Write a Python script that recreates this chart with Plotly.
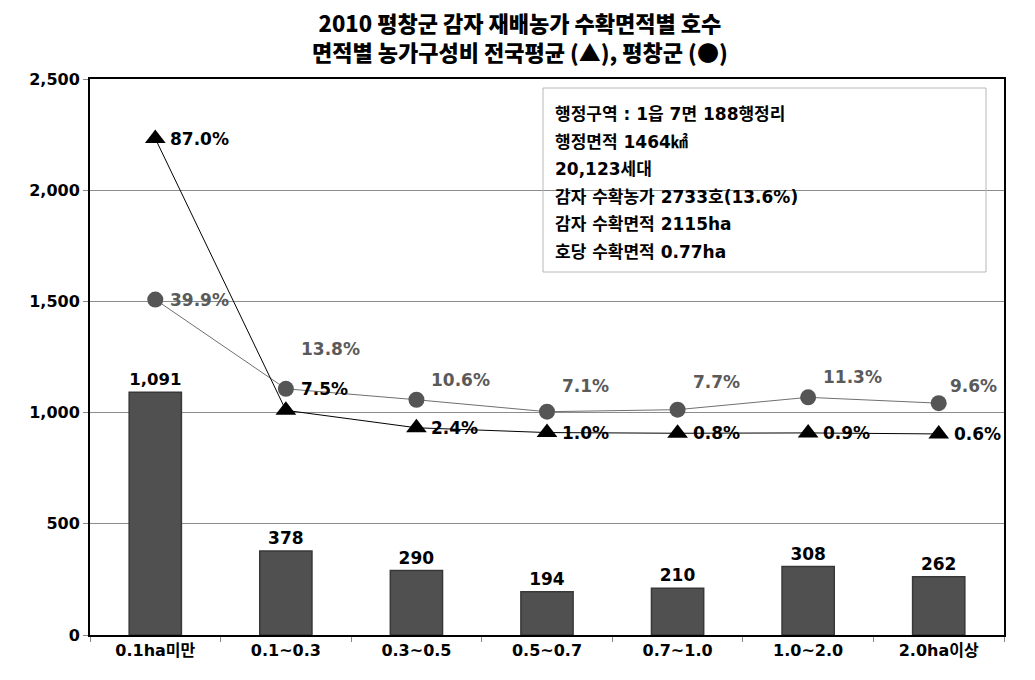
import plotly.graph_objects as go

categories = ["0.1ha미만", "0.1~0.3", "0.3~0.5", "0.5~0.7", "0.7~1.0", "1.0~2.0", "2.0ha이상"]
households = [1091, 378, 290, 194, 210, 308, 262]
national_pct = [87.0, 7.5, 2.4, 1.0, 0.8, 0.9, 0.6]
pyeongchang_pct = [39.9, 13.8, 10.6, 7.1, 7.7, 11.3, 9.6]
info_lines = [
    "행정구역 : 1읍 7면 188행정리",
    "행정면적 1464㎢",
    "20,123세대",
    "감자 수확농가 2733호(13.6%)",
    "감자 수확면적 2115ha",
    "호당 수확면적 0.77ha",
]
title_lines = ["2010 평창군 감자 재배농가 수확면적별 호수",
               "면적별 농가구성비 전국평균 (▲), 평창군 (●)"]

# label offsets (px) for data labels
circ_shift = [(0, 0), (0, 40), (0, 20), (0, 26), (0, 28), (0, 20), (-4, 17)]
tri_shift = [(0, 0), (0, 21), (0, 0), (0, 0), (0, 0), (0, 0), (0, 0)]

FONT = "DejaVu Sans, Noto Sans CJK KR"
KFONT = "Noto Sans CJK KR"

fig = go.Figure()
fig.add_trace(go.Bar(
    x=categories, y=households, width=0.4,
    marker=dict(color="#505050", line=dict(color="#383838", width=1.5)),
    text=[f"{v:,}" for v in households], textposition="outside",
    textfont=dict(family=FONT, size=17, color="black", weight="bold"),
    cliponaxis=False, showlegend=False,
))
fig.add_trace(go.Scatter(
    x=categories, y=pyeongchang_pct, yaxis="y2", mode="lines+markers",
    line=dict(color="#707070", width=1),
    marker=dict(symbol="circle", size=16, color="#555555"),
    showlegend=False,
))
fig.add_trace(go.Scatter(
    x=categories, y=national_pct, yaxis="y2", mode="lines+markers",
    line=dict(color="black", width=1),
    marker=dict(symbol="triangle-up", size=18, color="black"),
    showlegend=False,
))

annotations = []
for c, v, (dx, dy) in zip(categories, pyeongchang_pct, circ_shift):
    annotations.append(dict(x=c, y=v, xref="x", yref="y2", text=f"{v:.1f}%",
                            showarrow=False, xanchor="left", yanchor="middle",
                            xshift=13 + dx, yshift=dy,
                            font=dict(family=FONT, size=17, color="#5a5a5a", weight="bold")))
for c, v, (dx, dy) in zip(categories, national_pct, tri_shift):
    annotations.append(dict(x=c, y=v, xref="x", yref="y2", text=f"{v:.1f}%",
                            showarrow=False, xanchor="left", yanchor="middle",
                            xshift=13 + dx, yshift=dy,
                            font=dict(family=FONT, size=17, color="black", weight="bold")))

# pixel helpers for the paper-positioned text
plot_top, plot_bot = 79, 635
def py(ypx):
    return (plot_bot - ypx) / (plot_bot - plot_top)
def px(xpx):
    return (xpx - 90) / (1004 - 90)

annotations.append(dict(x=px(520), y=py(36), xref="paper", yref="paper",
                        text="<br>".join(title_lines), showarrow=False,
                        xanchor="center", yanchor="middle",
                        font=dict(family=KFONT, size=22, color="black", weight=900)))

for i, line in enumerate(info_lines):
    annotations.append(dict(x=px(553), y=py(114 + 27.6 * i), xref="paper", yref="paper",
                            text=line, showarrow=False,
                            xanchor="left", yanchor="middle",
                            font=dict(family=FONT, size=17, color="black", weight="bold")))

shapes = [dict(type="rect", xref="paper", yref="paper",
               x0=px(543), x1=px(986), y0=py(272), y1=py(88),
               line=dict(color="#b8b8b8", width=1), fillcolor="rgba(0,0,0,0)")]

fig.update_layout(
    width=1035, height=680,
    margin=dict(l=90, r=31, t=79, b=45),
    paper_bgcolor="white", plot_bgcolor="white",
    xaxis=dict(showline=True, linecolor="black", linewidth=2, mirror=True,
               ticks="outside", tickson="boundaries", ticklen=5, tickcolor="#888",
               tickfont=dict(family=FONT, size=16, color="black", weight="bold"),
               showgrid=False),
    yaxis=dict(range=[0, 2500], tickvals=[0, 500, 1000, 1500, 2000, 2500],
               tickformat=",", showline=True, linecolor="black", linewidth=2,
               mirror=True, ticks="outside", ticklen=5, tickcolor="#888",
               showgrid=True, gridcolor="#8c8c8c", gridwidth=1,
               tickfont=dict(family=FONT, size=16, color="black", weight="bold"),
               zeroline=False),
    yaxis2=dict(range=[-58.2, 104.4], overlaying="y", side="right",
                visible=False, showgrid=False),
    annotations=annotations, shapes=shapes,
)
fig.write_html("out.html", config={"displayModeBar": False},
               post_script="document.body.style.margin='0';")
